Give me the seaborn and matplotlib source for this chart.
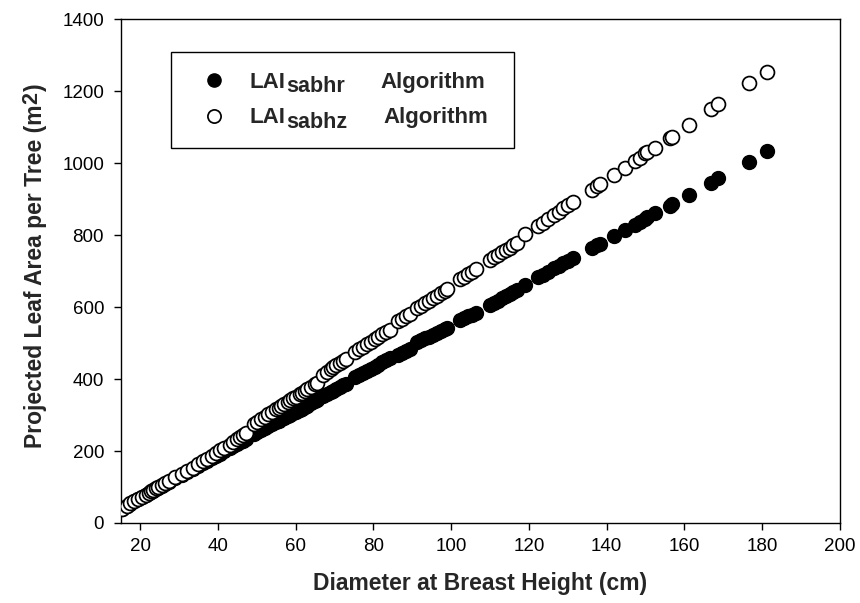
import matplotlib
matplotlib.use("Agg")
import matplotlib.pyplot as plt
from matplotlib.lines import Line2D
import seaborn as sns
import pandas as pd

# ---- data ----
dbh = [15.3, 16.5, 17.5, 18.5, 19.5, 20.5, 21.5, 22.2, 22.8, 23.4, 24.0, 24.6, 25.5, 26.5, 27.5, 29.0,
       30.7, 32.0, 33.5, 35.0, 36.2, 37.2, 38.5, 39.5, 40.6, 41.6, 43.0, 44.0, 45.0, 45.8, 46.5, 47.2,
       49.2, 50.0, 51.0, 52.0, 53.0, 54.0, 55.0, 55.6, 56.3, 57.0, 58.0, 58.6, 59.3, 60.0, 61.0, 61.6,
       62.3, 63.0, 64.0, 65.0, 65.6,
       67.0, 68.0, 69.0, 69.7, 70.5, 71.3, 72.2, 73.0,
       75.3, 76.3, 77.3, 78.3, 79.3, 80.3, 81.3, 82.3, 83.3, 84.2,
       86.3, 87.3, 88.5, 89.3,
       91.3, 92.3, 93.3, 94.3, 95.3, 96.3, 97.3, 98.3, 99.0,
       102.3, 103.3, 104.3, 105.3, 106.3,
       110.0, 111.0, 112.0, 113.0, 114.0, 115.0, 116.0, 117.0,
       119.0,
       122.4, 123.7, 125.0, 126.4, 127.6, 128.8, 130.0, 131.2,
       136.1, 137.4, 138.2, 141.8, 144.7, 147.2, 148.6, 149.8, 150.4, 152.4, 156.2, 156.8,
       161.1, 166.8, 168.7, 176.6, 181.2]

lai_sabhr = [40, 47, 53, 60, 66, 72, 78, 82, 86, 90, 94, 98, 103, 109, 115, 124,
             133, 141, 150, 159, 166, 172, 180, 186, 193, 199, 207, 213, 219, 224, 228, 232,
             248, 253, 258, 264, 270, 275, 281, 284, 288, 292, 298, 301, 305, 309, 315, 318,
             322, 326, 332, 338, 341,
             352, 358, 364, 368, 373, 377, 382, 386,
             405, 411, 417, 422, 428, 434, 440, 446, 452, 457,
             467, 472, 478, 483,
             503, 508, 513, 518, 523, 528, 533, 538, 542,
             565, 569, 574, 578, 582,
             606, 612, 618, 624, 630, 636, 641, 647,
             661,
             682, 690, 698, 707, 714, 721, 728, 735,
             763, 772, 776, 797, 814, 828, 837, 845, 849, 861, 881, 885,
             911, 945, 957, 1004, 1032]

lai_sabhz = [40, 48, 55, 61, 67, 73, 79, 84, 88, 92, 96, 100, 106, 112, 118, 127,
             137, 145, 154, 164, 172, 178, 187, 194, 202, 209, 218, 226, 233, 240, 245, 250,
             275, 281, 288, 295, 302, 309, 316, 320, 325, 330, 337, 341, 346, 351, 358, 362,
             367, 372, 379, 386, 390,
             412, 420, 427, 432, 438, 444, 450, 455,
             476, 483, 490, 497, 504, 511, 518, 525, 531, 537,
             560, 567, 574, 580,
             596, 603, 610, 617, 624, 631, 638, 645, 650,
             677, 684, 691, 698, 705,
             731, 738, 745, 752, 759, 765, 771, 778,
             803,
             825, 834, 845, 856, 865, 874, 884, 893,
             925, 935, 943, 967, 987, 1006, 1015, 1027, 1031, 1043, 1069, 1073,
             1106, 1149, 1164, 1221, 1253]

x_ticks = [20, 40, 60, 80, 100, 120, 140, 160, 180, 200]
y_ticks = [0, 200, 400, 600, 800, 1000, 1200, 1400]

# ---- style ----
sns.set_style("ticks")
plt.rcParams['font.family'] = ['Liberation Sans', 'DejaVu Sans']
plt.rcParams['mathtext.fontset'] = 'custom'
plt.rcParams['mathtext.rm'] = 'Liberation Sans'
plt.rcParams['mathtext.bf'] = 'Liberation Sans:bold'

df = pd.DataFrame({'dbh': dbh, 'sabhr': lai_sabhr, 'sabhz': lai_sabhz})

fig = plt.figure(figsize=(8.6, 6.03), dpi=100)
ax = fig.add_axes([0.14035, 0.13267, 0.8364, 0.8358])

sns.scatterplot(data=df, x='dbh', y='sabhr', ax=ax, color='black', edgecolor='black',
                s=100, linewidth=1.0, zorder=3)
sns.scatterplot(data=df, x='dbh', y='sabhz', ax=ax, color='white', edgecolor='black',
                s=100, linewidth=1.25, zorder=4)

ax.set_xlim(15, 200)
ax.set_ylim(0, 1400)
ax.set_xticks(x_ticks)
ax.set_yticks(y_ticks)
ax.tick_params(axis='both', which='major', direction='out', length=5, width=1.0,
               labelsize=13.5, colors='black', top=False, right=False)
ax.tick_params(axis='x', pad=6)
ax.tick_params(axis='y', pad=7)
for sp in ax.spines.values():
    sp.set_visible(True)
    sp.set_color('black')
    sp.set_linewidth(1.0)

ax.set_xlabel('Diameter at Breast Height (cm)', fontsize=16.5, fontweight='bold')
ax.xaxis.set_label_coords(0.5, -0.098)
ax.set_ylabel('Projected Leaf Area per Tree (m', fontsize=16.5, fontweight='bold')
ax.yaxis.set_label_coords(-0.1025, 0.49)

# legend
handles = [Line2D([], [], marker='o', ls='none', markersize=9.5, mfc='black', mec='black', mew=1.0),
           Line2D([], [], marker='o', ls='none', markersize=9.5, mfc='white', mec='black', mew=1.25)]
leg = ax.legend(handles, ['LAI', 'LAI'], loc='upper left',
                bbox_to_anchor=(0.0699, 0.5, 0.477, 0.4345), mode='expand', borderaxespad=0,
                prop={'weight': 'bold', 'size': 16}, frameon=True, fancybox=False,
                edgecolor='black', framealpha=1, handlelength=2.05, handletextpad=0.6,
                borderpad=0.9, labelspacing=0.65)
leg.get_frame().set_linewidth(1.0)

fig.canvas.draw()

texts = leg.get_texts()
subs = ['sabhr', 'sabhz']
algo_off = [94, 96.5]
for t, sub, off in zip(texts, subs, algo_off):
    ax.annotate(sub, xy=(1, 0), xycoords=t, xytext=(0.5, -3.2), textcoords='offset points',
                ha='left', va='bottom', fontsize=15.5, fontweight='bold', zorder=6)
    ax.annotate('Algorithm', xy=(0, 0), xycoords=t, xytext=(off, 0), textcoords='offset points',
                ha='left', va='bottom', fontsize=16, fontweight='bold', zorder=6)

# superscript of the y label and closing parenthesis
ylab = ax.yaxis.label
sup = ax.annotate('2', xy=(1, 1), xycoords=ylab, xytext=(-3.6, 0.5), textcoords='offset points',
                  rotation=90, ha='right', va='bottom', fontsize=15.5, fontweight='bold')
ax.annotate(')', xy=(1, 1), xycoords=sup, xytext=(3.6, 0.5), textcoords='offset points',
            rotation=90, ha='right', va='bottom', fontsize=16.5, fontweight='bold')

fig.savefig('out.png', dpi=100)
